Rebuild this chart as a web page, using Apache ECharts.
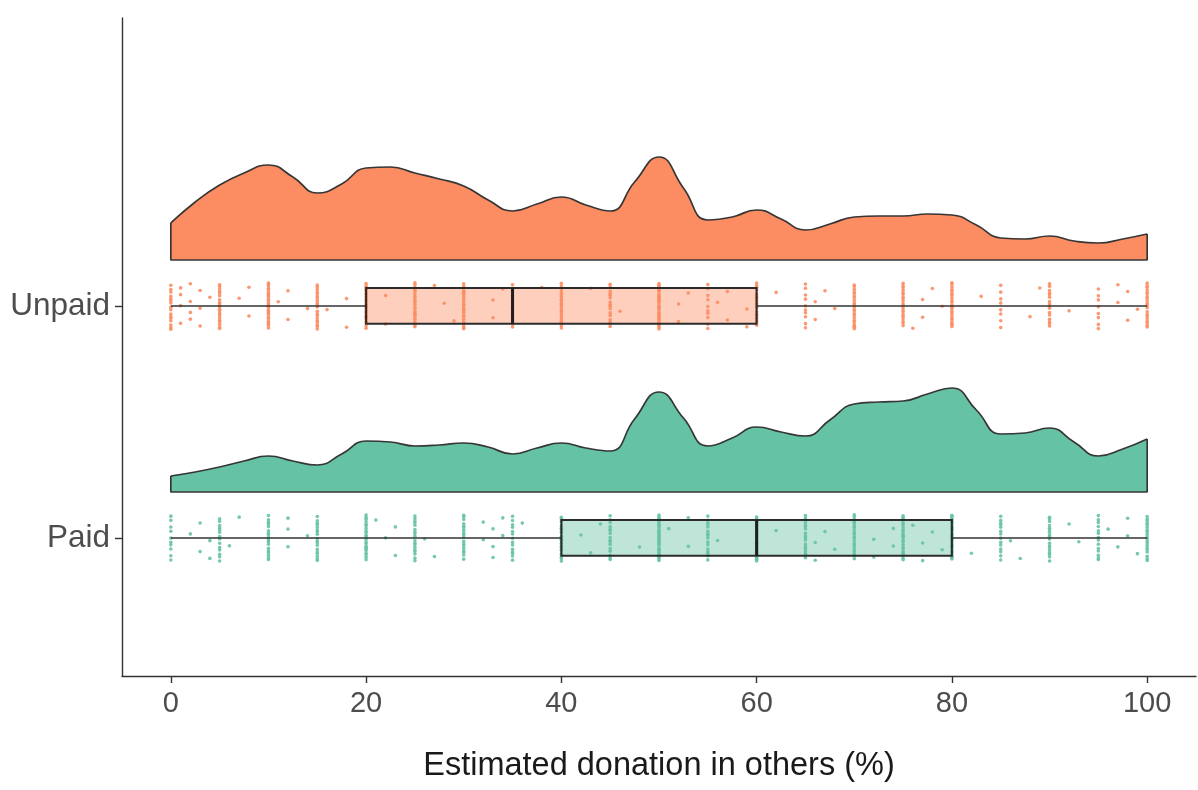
<!DOCTYPE html>
<html>
<head>
<meta charset="utf-8">
<script src="https://cdn.jsdelivr.net/npm/echarts@6/dist/echarts.min.js"></script>
<style>
html, body { margin: 0; padding: 0; background: #fff; }
#chart { width: 1198px; height: 790px; }
</style>
</head>
<body>
<div id="chart"></div>
<script>
// categories on the y axis (1 = Paid, 2 = Unpaid)
var categories = ['Paid', 'Unpaid'];
var xTicks = [0, 20, 40, 60, 80, 100];

// density curves, every 2.5 %
var densityX = [0, 2.5, 5, 7.5, 10, 12.5, 15, 17.5, 20, 22.5, 25, 27.5, 30, 32.5, 35, 37.5, 40,
  42.5, 45, 47.5, 50, 52.5, 55, 57.5, 60, 62.5, 65, 67.5, 70, 72.5, 75, 77.5, 80,
  82.5, 85, 87.5, 90, 92.5, 95, 97.5, 100];
var unpaidDensity = [37, 58, 75, 87, 95, 83, 67, 76, 92, 93, 87, 81, 74, 60, 49, 56, 63,
  55, 49, 78, 103, 72, 40, 43, 50, 41, 30, 36, 43, 44, 44, 46, 45,
  35, 22, 21, 24, 19, 17, 21, 26];
var paidDensity = [16, 20, 25, 31, 36, 31, 27, 38, 51, 50, 46, 47, 49, 45, 38, 44, 49,
  44, 41, 73, 100, 74, 46, 54, 65, 60, 56, 72, 88, 90, 91, 98, 104,
  82, 58, 59, 64, 50, 36, 43, 53];

// box stats: lower whisker, Q1, median, Q3, upper whisker
var unpaidBox = [0, 20, 35, 60, 100];
var paidBox = [0, 40, 60, 80, 100];

// individual responses: value and how many people gave it
var unpaidValues = [0, 1, 2, 3, 4, 5, 7, 8, 10, 11, 12, 14, 15, 16, 18, 20, 22, 25, 27, 28, 29, 30,
  33, 34, 35, 38, 40, 43, 45, 46, 50, 52, 53, 55, 56, 57, 59, 60, 62, 65, 66, 67, 68, 70,
  75, 76, 77, 78, 79, 80, 83, 85, 88, 89, 90, 92, 95, 97, 98, 99, 100];
var unpaidCounts = [16, 4, 4, 3, 1, 20, 1, 2, 26, 1, 2, 1, 20, 1, 2, 24, 2, 22, 1, 1, 1, 24,
  2, 1, 12, 1, 20, 1, 16, 1, 30, 2, 1, 10, 1, 2, 2, 18, 1, 10, 2, 1, 1, 22,
  20, 1, 2, 1, 1, 22, 1, 8, 1, 1, 16, 1, 8, 2, 2, 1, 20];
var paidValues = [0, 2, 3, 4, 5, 6, 7, 10, 12, 14, 15, 20, 21, 22, 23, 25, 26, 27, 30, 32, 33, 34,
  35, 36, 40, 42, 43, 44, 45, 48, 50, 51, 53, 55, 56, 60, 62, 65, 66, 67, 68, 70, 72, 74,
  75, 76, 77, 78, 79, 80, 82, 85, 86, 87, 90, 92, 93, 95, 96, 97, 98, 99, 100];
var paidCounts = [10, 1, 2, 2, 14, 1, 1, 18, 3, 1, 18, 22, 1, 1, 2, 18, 1, 1, 18, 2, 3, 2,
  14, 1, 18, 1, 1, 1, 16, 1, 32, 1, 2, 16, 1, 22, 1, 18, 2, 1, 1, 22, 2, 2,
  24, 1, 2, 1, 1, 28, 1, 14, 1, 1, 18, 1, 1, 14, 1, 1, 2, 1, 20];

var orange = '#FC8D62';
var green = '#66C2A5';
var densScale = 1 / 232;   // density height -> category units
var densOffset = 0.198;    // cloud sits above the box
var boxHalf = 0.077;
var jitterWidth = 0.2;

function densitySeries(cat, dens, color) {
  var base = cat + densOffset;
  var pts = densityX.map(function (x, i) { return [x, base + dens[i] * densScale]; });
  return [{
    type: 'line', data: pts, smooth: 0.5, symbol: 'none', z: 1,
    lineStyle: { color: '#363636', width: 1.7 },
    areaStyle: { color: color, opacity: 1, origin: base }
  }, {
    type: 'line', symbol: 'none', z: 1,
    data: [[0, pts[0][1]], [0, base], [100, base], [100, pts[pts.length - 1][1]]],
    lineStyle: { color: '#363636', width: 1.7 }
  }];
}

var idx = 0;
function jitterPoints(cat, values, counts) {
  var out = [];
  values.forEach(function (v, k) {
    for (var j = 0; j < counts[k]; j++) {
      var f = (idx * 0.6180339887) % 1;
      idx++;
      out.push([v, cat + (f - 0.5) * jitterWidth]);
    }
  });
  return out;
}

function boxRender(part) {
  return function (params, api) {
    var cat = api.value(0);
    var lo = api.value(1), q1 = api.value(2), med = api.value(3), q3 = api.value(4), hi = api.value(5);
    var fill = cat === 1 ? 'rgba(102,194,165,0.42)' : 'rgba(252,141,98,0.42)';
    var a = api.coord([q1, cat + boxHalf]);
    var b = api.coord([q3, cat - boxHalf]);
    if (part === 'fill') {
      return { type: 'rect', shape: { x: a[0], y: a[1], width: b[0] - a[0], height: b[1] - a[1] },
        style: { fill: fill } };
    }
    var m1 = api.coord([med, cat + boxHalf]), m2 = api.coord([med, cat - boxHalf]);
    var w1 = api.coord([lo, cat]), w2 = api.coord([q1, cat]);
    var w3 = api.coord([q3, cat]), w4 = api.coord([hi, cat]);
    var ls = { stroke: '#333', lineWidth: 1.6 };
    return { type: 'group', children: [
      { type: 'line', shape: { x1: w1[0], y1: w1[1], x2: w2[0], y2: w2[1] }, style: ls },
      { type: 'line', shape: { x1: w3[0], y1: w3[1], x2: w4[0], y2: w4[1] }, style: ls },
      { type: 'rect', shape: { x: a[0], y: a[1], width: b[0] - a[0], height: b[1] - a[1] },
        style: { fill: 'none', stroke: '#2b2b2b', lineWidth: 2 } },
      { type: 'line', shape: { x1: m1[0], y1: m1[1], x2: m2[0], y2: m2[1] },
        style: { stroke: '#1f1f1f', lineWidth: 3 } }
    ] };
  };
}

var boxData = [[1].concat(paidBox), [2].concat(unpaidBox)];
var font = "'Liberation Sans', Arial, sans-serif";

var series = []
  .concat(densitySeries(2, unpaidDensity, orange))
  .concat(densitySeries(1, paidDensity, green));
series.push({ type: 'custom', renderItem: boxRender('fill'), data: boxData, z: 2,
  encode: { x: [1, 2, 3, 4, 5], y: 0 } });
series.push({ type: 'scatter', data: jitterPoints(2, unpaidValues, unpaidCounts), symbolSize: 3.6, z: 3,
  itemStyle: { color: orange, opacity: 0.9 } });
series.push({ type: 'scatter', data: jitterPoints(1, paidValues, paidCounts), symbolSize: 3.6, z: 3,
  itemStyle: { color: green, opacity: 0.9 } });
series.push({ type: 'custom', renderItem: boxRender('line'), data: boxData, z: 4,
  encode: { x: [1, 2, 3, 4, 5], y: 0 } });

var myChart = echarts.init(document.getElementById('chart'));
myChart.setOption({
  animation: false,
  backgroundColor: '#fff',
  grid: { left: 122, right: 2, top: 18, bottom: 114 },
  xAxis: {
    type: 'value', min: -5, max: 105,
    name: 'Estimated donation in others (%)', nameLocation: 'middle', nameGap: 74,
    nameTextStyle: { fontSize: 32.5, color: '#1a1a1a', fontFamily: font },
    axisLine: { onZero: false, lineStyle: { color: '#333', width: 1.4 } },
    axisTick: { customValues: xTicks, length: 7, lineStyle: { color: '#333', width: 1.4 } },
    axisLabel: { customValues: xTicks, fontSize: 29, color: '#4d4d4d', margin: 13, fontFamily: font },
    splitLine: { show: false }
  },
  yAxis: {
    type: 'value', min: 0.405, max: 3.241,
    axisLine: { show: true, onZero: false, lineStyle: { color: '#333', width: 1.4 } },
    axisTick: { show: true, customValues: [1, 2], length: 7, lineStyle: { color: '#333', width: 1.4 } },
    axisLabel: { customValues: [1, 2], fontSize: 31.5, color: '#4d4d4d', margin: 12, fontFamily: font,
      formatter: function (v) { return categories[Math.round(v) - 1]; } },
    splitLine: { show: false }
  },
  series: series
});
</script>
</body>
</html>
